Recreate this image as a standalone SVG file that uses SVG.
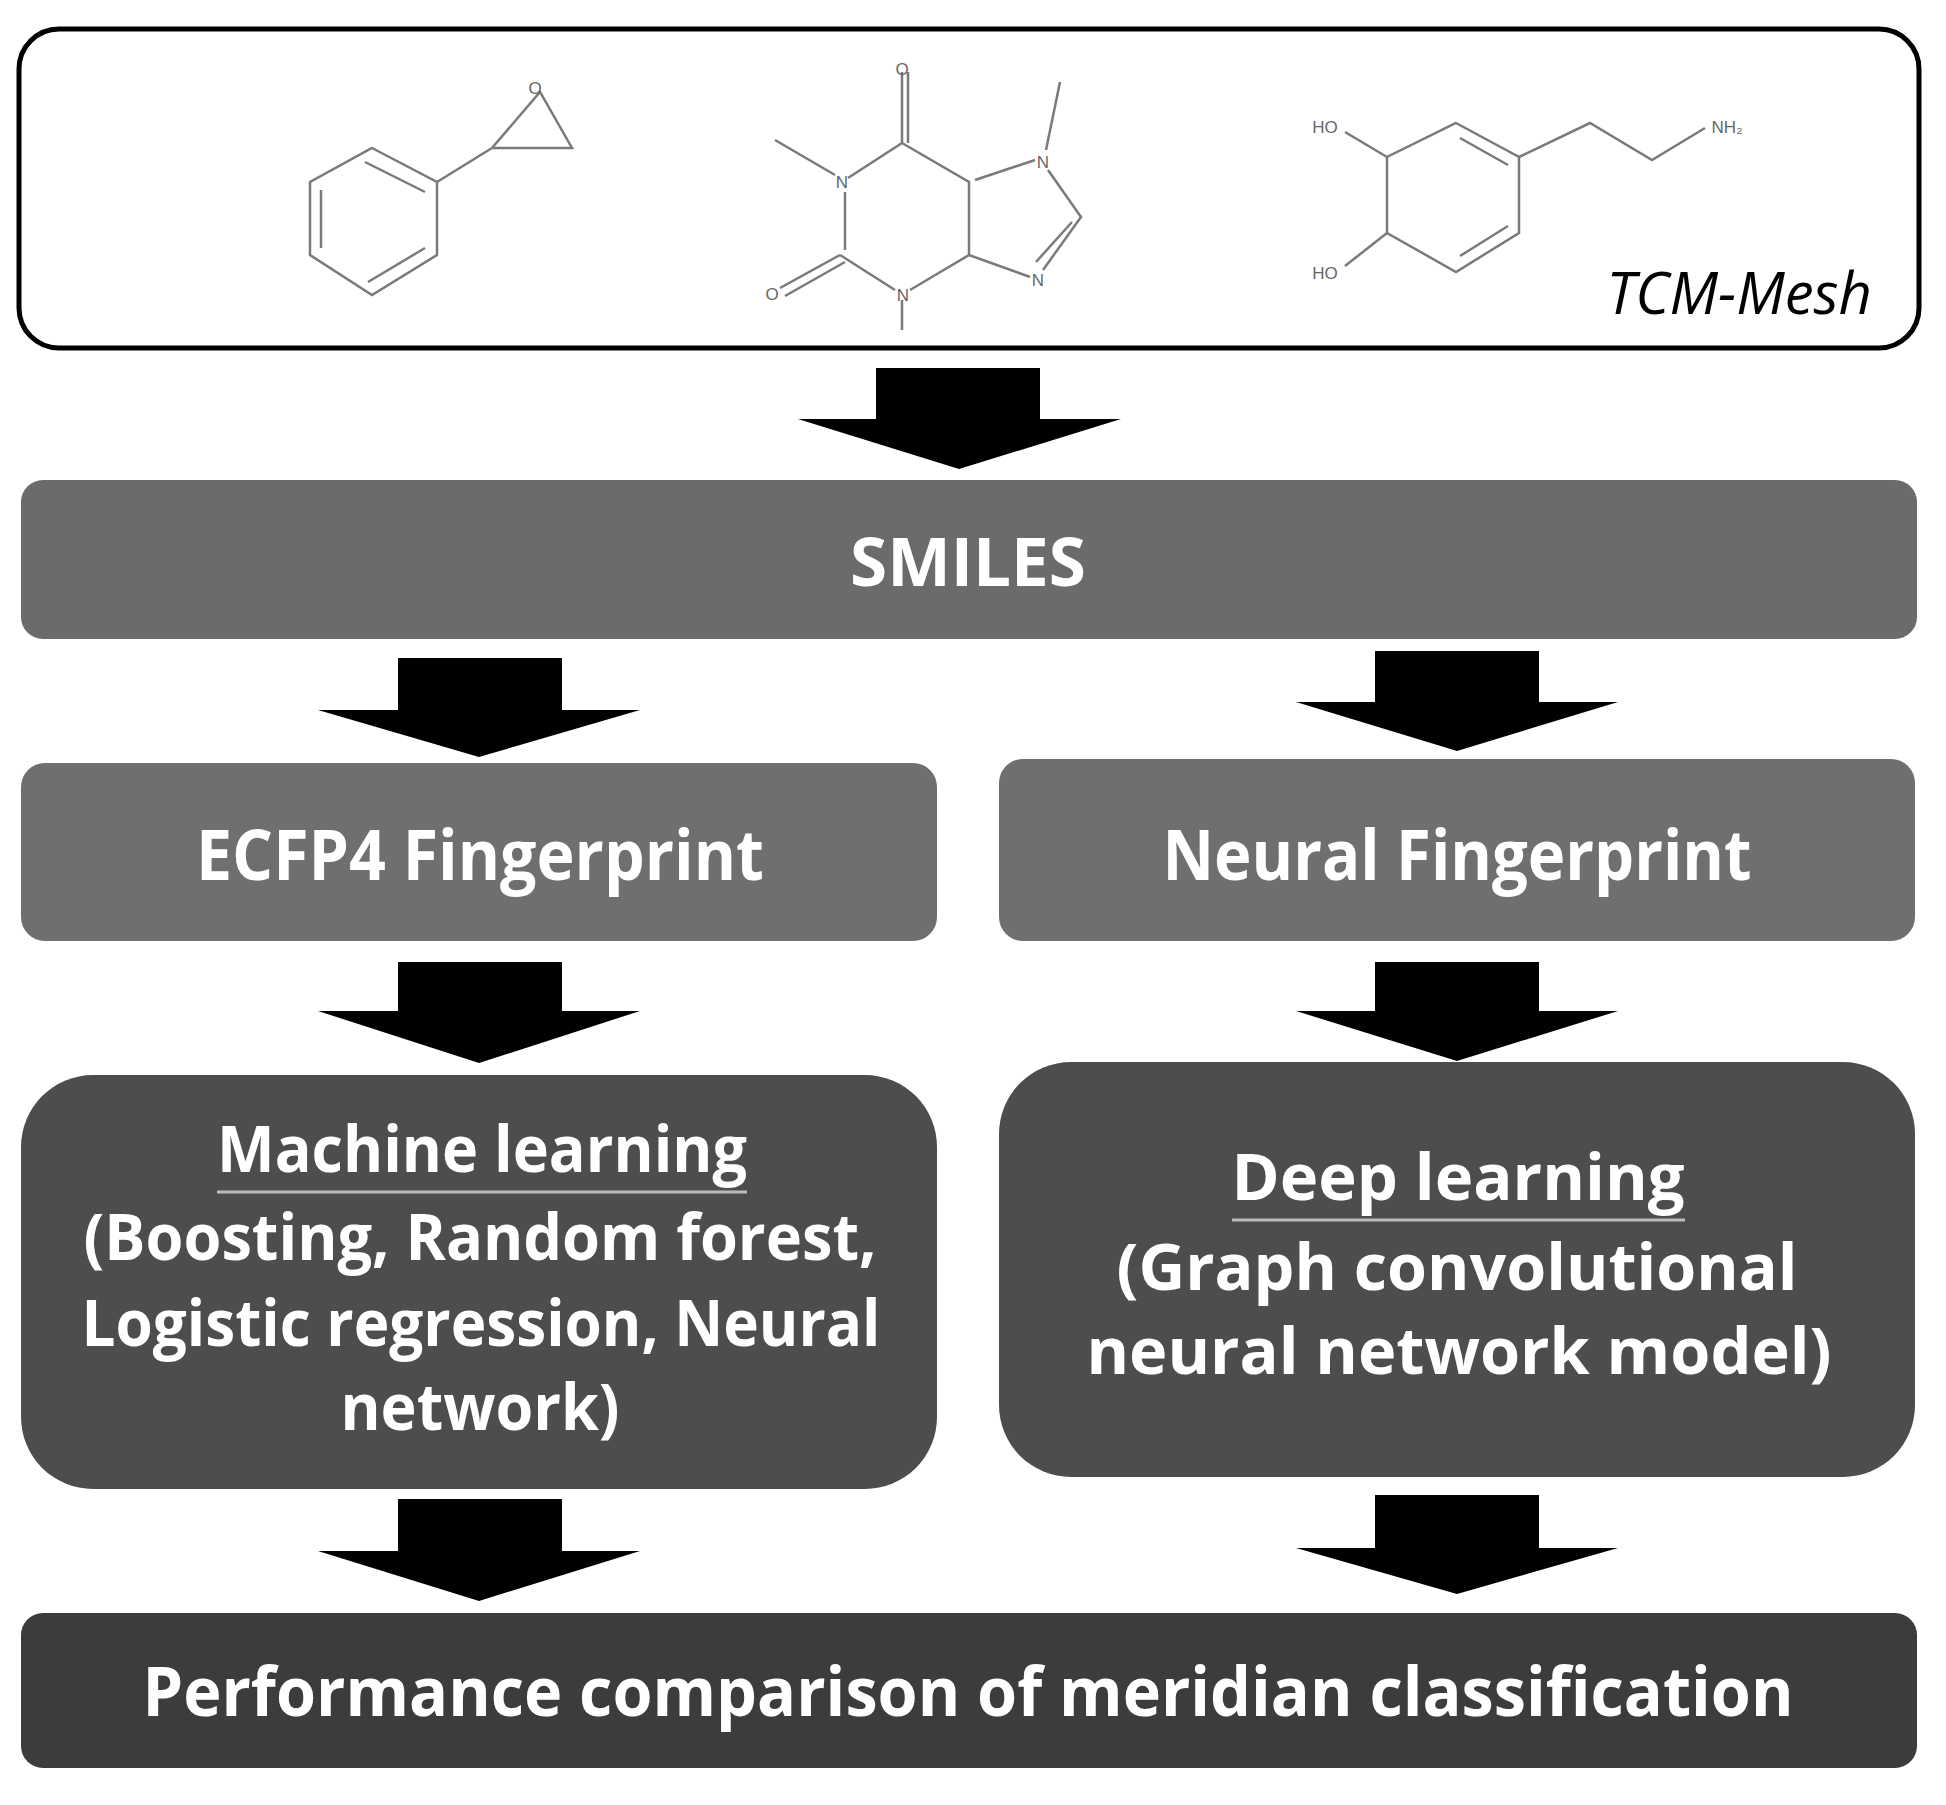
<svg xmlns="http://www.w3.org/2000/svg" width="1946" height="1805" viewBox="0 0 1946 1805">
<style>
.t{font-family:"Open Sans","Liberation Sans",sans-serif;font-weight:bold;fill:#fff;text-anchor:middle}
.m{stroke:#7a7a7a;stroke-width:2.5;fill:none}
.a{font-family:"Liberation Sans",sans-serif;font-size:17px;fill:#666;text-anchor:middle}
.ar{fill:#000}
</style>
<rect width="1946" height="1805" fill="#fff"/>
<g id="tcm">
<rect x="19" y="29" width="1900" height="319" rx="40" fill="#fff" stroke="#000" stroke-width="5"/>
<g class="m">
<polygon points="372,148 437,182 437,255 372,295 310,255 310,182"/>
<line x1="365" y1="162" x2="425" y2="192"/><line x1="425" y1="248" x2="368" y2="282"/><line x1="321" y1="190" x2="321" y2="248"/>
<line x1="437" y1="182" x2="492" y2="148"/>
<polyline points="492,148 572,148 540,92 492,148"/>
<line x1="902" y1="72" x2="902" y2="143"/><line x1="908" y1="72" x2="908" y2="143"/>
<line x1="775" y1="140" x2="835" y2="175"/>
<polyline points="902,143 848,178"/><line x1="845" y1="192" x2="845" y2="250"/>
<line x1="840" y1="255" x2="780" y2="288"/><line x1="845" y1="262" x2="785" y2="296"/>
<polyline points="840,255 895,290"/><line x1="902" y1="300" x2="902" y2="330"/>
<polyline points="910,290 969,255 969,182 902,143"/>
<line x1="975" y1="180" x2="1035" y2="160"/><line x1="1046" y1="150" x2="1060" y2="82"/>
<polyline points="1048,170 1081,217 1043,270"/><line x1="1072" y1="222" x2="1036" y2="262"/>
<line x1="969" y1="255" x2="1030" y2="277"/>
<polygon points="1456,123 1519,157 1519,233 1456,272 1387,233 1387,157"/>
<line x1="1460" y1="138" x2="1508" y2="165"/><line x1="1508" y1="226" x2="1460" y2="256"/>
<line x1="1387" y1="157" x2="1345" y2="132"/><line x1="1387" y1="233" x2="1345" y2="266"/>
<polyline points="1519,157 1590,123 1652,160 1705,128"/>
</g>
<text class="a" x="535" y="94">O</text>
<text class="a" x="902" y="75">O</text>
<text class="a" x="842" y="188">N</text>
<text class="a" x="772" y="300">O</text>
<text class="a" x="903" y="301">N</text>
<text class="a" x="1043" y="168">N</text>
<text class="a" x="1038" y="286">N</text>
<text class="a" x="1325" y="133">HO</text>
<text class="a" x="1325" y="279">HO</text>
<text class="a" x="1727" y="133">NH₂</text>
<text x="1872" y="314" font-family="Open Sans,Liberation Sans,sans-serif" font-style="italic" font-size="58" fill="#000" text-anchor="end">TCM-Mesh</text>
</g>
<g id="connectors">
<polygon class="ar" points="876,368 1040,368 1040,419 1121,419 959,469 798,419 876,419"/>
<polygon class="ar" points="398,658 562,658 562,710 640,710 479,757 318,710 398,710"/>
<polygon class="ar" points="1375,651 1539,651 1539,702 1618,702 1457,751 1296,702 1375,702"/>
<polygon class="ar" points="398,962 562,962 562,1011 640,1011 479,1063 318,1011 398,1011"/>
<polygon class="ar" points="1375,962 1539,962 1539,1011 1618,1011 1457,1061 1296,1011 1375,1011"/>
<polygon class="ar" points="398,1499 562,1499 562,1551 640,1551 479,1601 318,1551 398,1551"/>
<polygon class="ar" points="1375,1495 1539,1495 1539,1548 1618,1548 1457,1594 1296,1548 1375,1548"/>
</g>
<g id="smiles">
<rect x="21" y="480" width="1896" height="159" rx="22" fill="#6b6b6b"/>
<text class="t" x="968" y="586" font-size="66" textLength="236" lengthAdjust="spacingAndGlyphs">SMILES</text>
</g>
<g id="ecfp4">
<rect x="21" y="763" width="916" height="178" rx="24" fill="#6f6f6f"/>
<text class="t" x="480" y="880" font-size="70" textLength="568" lengthAdjust="spacingAndGlyphs">ECFP4 Fingerprint</text>
</g>
<g id="neural">
<rect x="999" y="759" width="916" height="182" rx="24" fill="#6f6f6f"/>
<text class="t" x="1457" y="880" font-size="70" textLength="589" lengthAdjust="spacingAndGlyphs">Neural Fingerprint</text>
</g>
<g id="ml">
<rect x="21" y="1075" width="916" height="414" rx="72" fill="#4d4d4d"/>
<text class="t" x="482" y="1172" font-size="64" textLength="530" lengthAdjust="spacingAndGlyphs">Machine learning</text>
<line x1="217" y1="1192" x2="747" y2="1192" stroke="#bbb" stroke-width="3"/>
<text class="t" x="480" y="1260" font-size="64" textLength="793" lengthAdjust="spacingAndGlyphs">(Boosting, Random forest,</text>
<text class="t" x="481" y="1346" font-size="64" textLength="799" lengthAdjust="spacingAndGlyphs">Logistic regression, Neural</text>
<text class="t" x="480" y="1430" font-size="64" textLength="279" lengthAdjust="spacingAndGlyphs">network)</text>
</g>
<g id="dl">
<rect x="999" y="1062" width="916" height="415" rx="72" fill="#4d4d4d"/>
<text class="t" x="1458" y="1200" font-size="64" textLength="453" lengthAdjust="spacingAndGlyphs">Deep learning</text>
<line x1="1232" y1="1220" x2="1685" y2="1220" stroke="#bbb" stroke-width="3"/>
<text class="t" x="1457" y="1290" font-size="64" textLength="681" lengthAdjust="spacingAndGlyphs">(Graph convolutional</text>
<text class="t" x="1459" y="1374" font-size="64" textLength="745" lengthAdjust="spacingAndGlyphs">neural network model)</text>
</g>
<g id="perf">
<rect x="21" y="1613" width="1896" height="155" rx="22" fill="#3c3c3c"/>
<text class="t" x="968" y="1716" font-size="68" textLength="1651" lengthAdjust="spacingAndGlyphs">Performance comparison of meridian classification</text>
</g>
</svg>
